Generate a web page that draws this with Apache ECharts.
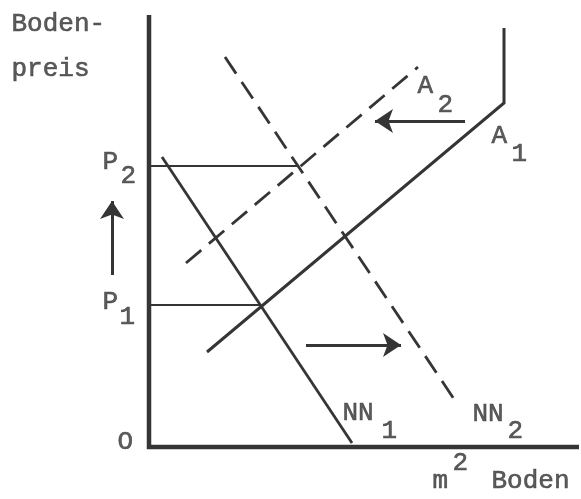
<!DOCTYPE html>
<html>
<head>
<meta charset="utf-8">
<script src="https://cdn.jsdelivr.net/npm/echarts@6/dist/echarts.min.js"></script>
<style>
html,body{margin:0;padding:0;background:#fff;}
#chart{width:581px;height:499px;}
</style>
</head>
<body>
<div id="chart"></div>
<script>
// Data coordinates: origin O at the corner of the axes
const axisPath = [[0, 432], [0, 0], [430, 0]];
const nn1 = [[13, 290], [203, 4]];
const nn2 = [[76, 390], [309, 42]];
const a1 = [[58, 95], [355, 344], [355, 419]];
const a2 = [[37, 184], [269, 380]];
const p2Guide = [[0, 281], [150, 281]];
const p1Guide = [[0, 142], [112, 142]];
const arrowUp = [[-37, 172], [-37, 246]];
const arrowLeft = [[316, 326], [226, 326]];
const arrowRight = [[157, 102], [252, 102]];
const labels = [
  ['Boden-', -137, 422],
  ['preis', -137, 377],
  ['P', -46, 284], ['2', -28, 270],
  ['P', -46, 144], ['1', -29, 129],
  ['O', -31, 4],
  ['A', 269, 360], ['2', 289, 341],
  ['A', 343, 310], ['1', 363, 292],
  ['NN', 194, 33], ['1', 233, 15],
  ['NN', 324, 32], ['2', 359, 15],
  ['m', 284, -35], ['2', 304, -17],
  ['Boden', 343, -35]
];

const ink = '#353535';
const chart = echarts.init(document.getElementById('chart'));

function line(data, width, dashed) {
  return {
    type: 'line', data: data, symbol: 'none', silent: true, animation: false,
    lineStyle: { color: ink, width: width, type: dashed ? [20, 10] : 'solid', cap: 'butt', join: 'miter' }
  };
}

chart.setOption({
  backgroundColor: '#fff',
  animation: false,
  grid: { left: 0, right: 0, top: 0, bottom: 0 },
  xAxis: { type: 'value', min: -149, max: 432, show: false },
  yAxis: { type: 'value', min: -52, max: 447, show: false },
  series: [
    line(axisPath, 4.5, false),
    line(nn1, 2.8, false),
    line(nn2, 2.8, true),
    line(a1, 3, false),
    line(a2, 2.8, true),
    line(p2Guide, 2.2, false),
    line(p1Guide, 2.2, false),
    {
      type: 'lines', coordinateSystem: 'cartesian2d', silent: true, animation: false,
      symbol: ['none', 'arrow'], symbolSize: [13, 18],
      lineStyle: { color: ink, width: 3, opacity: 1 },
      itemStyle: { color: ink },
      data: [{ coords: arrowUp }, { coords: arrowLeft }, { coords: arrowRight }]
    },
    {
      type: 'scatter', silent: true, animation: false, symbolSize: 1,
      itemStyle: { color: 'transparent' },
      data: labels.map(l => ({ value: [l[1], l[2]], name: l[0] })),
      label: {
        show: true, position: [0, 0], align: 'left', verticalAlign: 'middle',
        formatter: p => p.name,
        fontFamily: 'Liberation Mono', fontSize: 26, color: '#333',
        textBorderColor: '#333', textBorderWidth: 0.6
      }
    }
  ]
});
</script>
</body>
</html>
